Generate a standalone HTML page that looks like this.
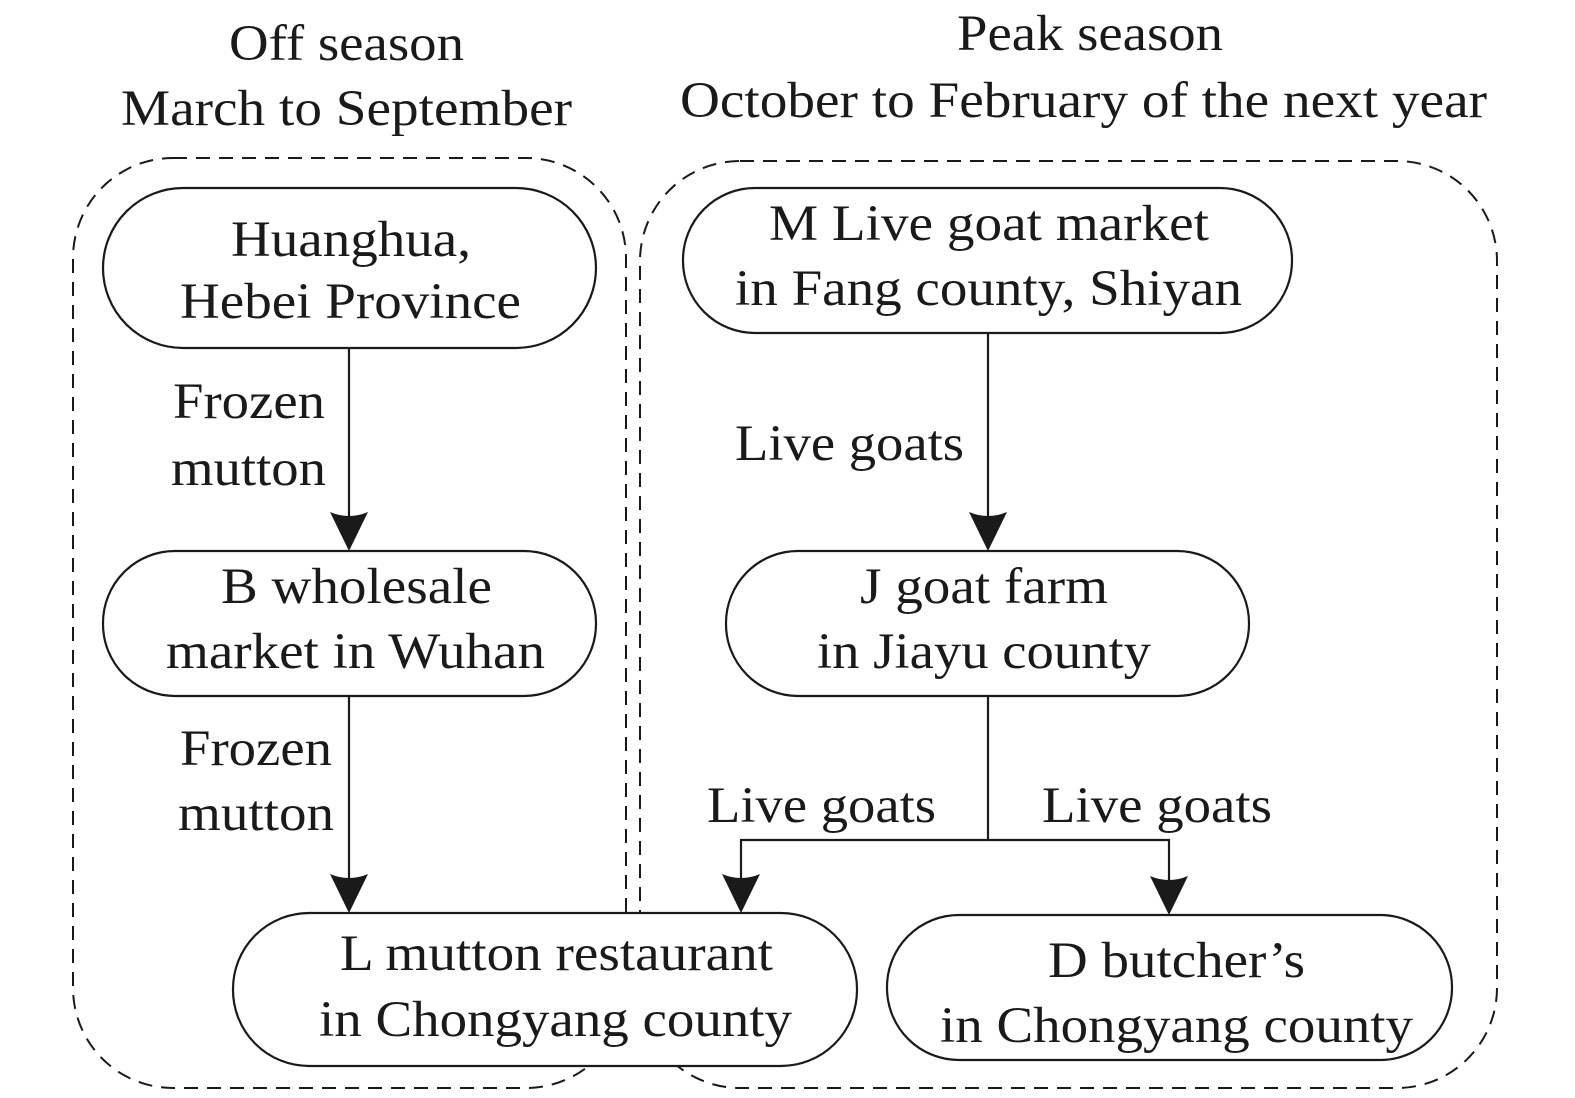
<!DOCTYPE html>
<html><head><style>html,body{margin:0;padding:0;background:#fff}svg{display:block}</style></head>
<body>
<svg width="1575" height="1098" viewBox="0 0 1575 1098" xmlns="http://www.w3.org/2000/svg" font-family="Liberation Serif, serif" font-size="51" fill="#1a1a1a">
<g fill="none" stroke="#1a1a1a" stroke-width="2" stroke-dasharray="14,9">
<rect x="73" y="158" width="553" height="930" rx="100"/>
<rect x="640" y="161" width="857" height="927" rx="100"/>
</g>
<g stroke="#1a1a1a" stroke-width="2.2" fill="none">
<line x1="349" y1="348" x2="349" y2="520"/>
<line x1="349" y1="696" x2="349" y2="882"/>
<line x1="988" y1="333" x2="988" y2="520"/>
<polyline points="988,696 988,840 741,840 741,882"/>
<polyline points="988,840 1169,840 1169,882"/>
</g>
<g fill="#1a1a1a">
<path d="M330,512 Q349,520 368,512 L349,551 Z"/>
<path d="M330,874 Q349,882 368,874 L349,913 Z"/>
<path d="M969,512 Q988,520 1007,512 L988,551 Z"/>
<path d="M722,874 Q741,882 760,874 L741,913 Z"/>
<path d="M1150,876 Q1169,884 1188,876 L1169,915 Z"/>
</g>
<g fill="#fff" stroke="#1a1a1a" stroke-width="2.2">
<rect x="103" y="188" width="493" height="160" rx="80"/>
<rect x="683" y="188" width="609" height="145" rx="72"/>
<rect x="103" y="551" width="493" height="145" rx="72"/>
<rect x="726" y="551" width="523" height="145" rx="72"/>
<rect x="233" y="913" width="624" height="153" rx="76"/>
<rect x="887" y="915" width="565" height="145" rx="72"/>
</g>
<g lengthAdjust="spacingAndGlyphs">
<text x="229" y="60" textLength="235" lengthAdjust="spacingAndGlyphs">Off season</text>
<text x="121" y="125" textLength="451" lengthAdjust="spacingAndGlyphs">March to September</text>
<text x="957" y="50" textLength="266" lengthAdjust="spacingAndGlyphs">Peak season</text>
<text x="680" y="117" textLength="807" lengthAdjust="spacingAndGlyphs">October to February of the next year</text>
<text x="231" y="256" textLength="240" lengthAdjust="spacingAndGlyphs">Huanghua,</text>
<text x="180" y="318" textLength="341" lengthAdjust="spacingAndGlyphs">Hebei Province</text>
<text x="769" y="240" textLength="440" lengthAdjust="spacingAndGlyphs">M Live goat market</text>
<text x="735" y="305" textLength="507" lengthAdjust="spacingAndGlyphs">in Fang county, Shiyan</text>
<text x="221" y="603" textLength="271" lengthAdjust="spacingAndGlyphs">B wholesale</text>
<text x="166" y="668" textLength="379" lengthAdjust="spacingAndGlyphs">market in Wuhan</text>
<text x="860" y="603" textLength="248" lengthAdjust="spacingAndGlyphs">J goat farm</text>
<text x="817" y="668" textLength="334" lengthAdjust="spacingAndGlyphs">in Jiayu county</text>
<text x="340" y="970" textLength="433" lengthAdjust="spacingAndGlyphs">L mutton restaurant</text>
<text x="319" y="1036" textLength="473" lengthAdjust="spacingAndGlyphs">in Chongyang county</text>
<text x="1048" y="977" textLength="257" lengthAdjust="spacingAndGlyphs">D butcher’s</text>
<text x="940" y="1042" textLength="473" lengthAdjust="spacingAndGlyphs">in Chongyang county</text>
<text x="173" y="418" textLength="152" lengthAdjust="spacingAndGlyphs">Frozen</text>
<text x="171" y="485" textLength="155" lengthAdjust="spacingAndGlyphs">mutton</text>
<text x="180" y="765" textLength="152" lengthAdjust="spacingAndGlyphs">Frozen</text>
<text x="178" y="830" textLength="156" lengthAdjust="spacingAndGlyphs">mutton</text>
<text x="735" y="460" textLength="229" lengthAdjust="spacingAndGlyphs">Live goats</text>
<text x="707" y="822" textLength="229" lengthAdjust="spacingAndGlyphs">Live goats</text>
<text x="1042" y="822" textLength="230" lengthAdjust="spacingAndGlyphs">Live goats</text>
</g>
</svg>
</body></html>
